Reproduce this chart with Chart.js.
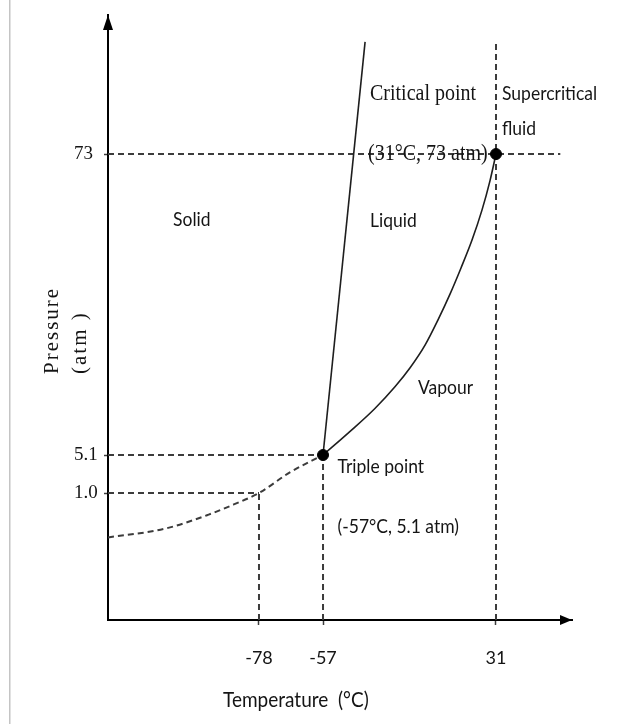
<!DOCTYPE html>
<html>
<head>
<meta charset="utf-8">
<title>Phase diagram of CO2</title>
<script src="https://cdn.jsdelivr.net/npm/chart.js@4/dist/chart.umd.min.js"></script>
<style>
  html, body { margin: 0; padding: 0; background: #fff; }
  canvas { display: block; }
</style>
</head>
<body>
<canvas id="phaseChart" width="632" height="724"></canvas>
<script>
// ─── Data ─────────────────────────────────────────────────────────────────────
const tempTicks       = [-78, -57, 31];
const tempTickLabels  = ['-78', '-57', '31'];
const pressTicks      = [1.0, 5.1, 73];
const pressTickLabels = ['1.0', '5.1', '73'];

const triplePoint   = { t: -57, p: 5.1 };
const criticalPoint = { t: 31,  p: 73 };
const sublimPoint   = { t: -78, p: 1.0 };

// solid / vapour boundary (dashed)
const sublimTemps = [-120, -104, -92, -85, -78, -68, -57];
const sublimPress = [0.65, 0.72, 0.83, 0.91, 1.0, 3.2, 5.1];

// solid / liquid boundary
const meltTemps = [-57, -35.6];
const meltPress = [5.1, 98];

// liquid / vapour boundary
const vapTemps = [-57, -42.8, -30.6, -20.4, -12.7, -5.1, 1.5, 7.6, 13.2, 18.8, 23.9, 27.9, 31];
const vapPress = [5.1, 10.6, 15.6, 20.5, 24.8, 29.9, 35.6, 41.4, 47.3, 53.6, 60.4, 66.9, 73];

// ends of the dashed guide lines
const guideTempEnd  = 64;
const guideTopPress = 98;

// region / point labels
const labelTexts = ['Critical point', '(31°C, 73 atm)', 'Supercritical', 'fluid',
                    'Solid', 'Liquid', 'Vapour', 'Triple point', '(-57°C, 5.1 atm)'];
const labelTemps = [-33.1, -34.1, 34.1, 34.1, -101.9, -33.1, -8.7, -49.6, -49.6];
const labelPress = [86.4, 73, 86.4, 78.8, 58.3, 58.1, 20.4, 3.9, 0.74];
const labelSerif = [true, true, false, false, false, false, false, false, false];

// ─── Schematic axes: the diagram is not to scale ─────────────────────────────
// value anchors and where they sit along the axis (0 = start, 1 = end)
const axisMap = {
  x: { values: [-120, -78, -57, 31, 70],  fracs: [0, 0.3254, 0.4634, 0.8362, 1] },
  y: { values: [0, 1.0, 5.1, 73, 104],    fracs: [0, 0.2099, 0.2727, 0.7702, 1] }
};

class PiecewiseScale extends Chart.LinearScale {
  determineDataLimits() {
    const v = axisMap[this.axis].values;
    this.min = v[0];
    this.max = v[v.length - 1];
  }
  buildTicks() {
    const vals = this.axis === 'x' ? tempTicks : pressTicks;
    return vals.map(value => ({ value }));
  }
  getPixelForValue(value) {
    const { values, fracs } = axisMap[this.axis];
    let i = 0;
    while (i < values.length - 2 && value > values[i + 1]) i++;
    const t = (value - values[i]) / (values[i + 1] - values[i]);
    return this.getPixelForDecimal(fracs[i] + t * (fracs[i + 1] - fracs[i]));
  }
  getValueForPixel(pixel) {
    const { values, fracs } = axisMap[this.axis];
    const d = this.getDecimalForPixel(pixel);
    let i = 0;
    while (i < fracs.length - 2 && d > fracs[i + 1]) i++;
    const t = (d - fracs[i]) / (fracs[i + 1] - fracs[i]);
    return values[i] + t * (values[i + 1] - values[i]);
  }
}
PiecewiseScale.id = 'piecewise';
PiecewiseScale.defaults = {};
Chart.register(PiecewiseScale);

// ─── Helpers ──────────────────────────────────────────────────────────────────
const toXY = (ts, ps) => ts.map((t, i) => ({ x: t, y: ps[i] }));
const xMin = axisMap.x.values[0];
const yMin = axisMap.y.values[0];

const textColor = '#141414';
const dashColor = '#3c3c3c';
const serif = '"Liberation Serif", "Times New Roman", serif';
const sans  = 'Lato, "Open Sans", sans-serif';
const stretch = 1.15;   // the source text is a little taller than wide

function dashed(data, extra) {
  return Object.assign({
    data,
    borderColor: dashColor,
    borderWidth: 2,
    borderDash: [6, 4],
    pointRadius: 0,
    fill: false,
    clip: false
  }, extra || {});
}

function tallText(ctx, txt, px, py, angle, sy) {
  ctx.save();
  ctx.translate(px, py);
  if (angle) ctx.rotate(angle);
  ctx.scale(1, sy || stretch);
  ctx.fillText(txt, 0, 0);
  ctx.restore();
}

// ─── Plugins: labels, axis titles, arrows ────────────────────────────────────
const phaseDecor = {
  id: 'phaseDecor',
  beforeDraw(chart) {
    const ctx = chart.ctx;
    ctx.save();
    ctx.fillStyle = '#c4c4c4';
    ctx.fillRect(9, 0, 1.5, chart.height);
    ctx.restore();
  },
  afterDatasetsDraw(chart) {
    const { ctx, scales: { x, y } } = chart;
    ctx.save();
    ctx.fillStyle = textColor;
    ctx.textBaseline = 'middle';
    ctx.textAlign = 'left';
    labelTexts.forEach((txt, i) => {
      ctx.font = labelSerif[i] ? '20px ' + serif : '17.5px ' + sans;
      tallText(ctx, txt, x.getPixelForValue(labelTemps[i]), y.getPixelForValue(labelPress[i]));
    });
    ctx.restore();
  },
  afterDraw(chart) {
    const { ctx, chartArea: { left, right, top, bottom } } = chart;
    ctx.save();
    ctx.fillStyle = '#000';
    // arrow heads
    ctx.beginPath();
    ctx.moveTo(left, top);
    ctx.lineTo(left - 5, top + 15);
    ctx.lineTo(left + 5, top + 15);
    ctx.closePath();
    ctx.fill();
    ctx.beginPath();
    ctx.moveTo(right, bottom);
    ctx.lineTo(right - 12, bottom - 5);
    ctx.lineTo(right - 12, bottom + 5);
    ctx.closePath();
    ctx.fill();

    // x title
    ctx.fillStyle = textColor;
    ctx.font = '19px ' + sans;
    ctx.textAlign = 'left';
    ctx.textBaseline = 'middle';
    tallText(ctx, 'Temperature  (°C)', left + 115, 700);

    // y title, two rotated lines
    ctx.font = '21px ' + serif;
    if ('letterSpacing' in ctx) ctx.letterSpacing = '2px';
    tallText(ctx, 'Pressure', 52, 374, -Math.PI / 2, 1);
    tallText(ctx, '(atm )', 80, 374, -Math.PI / 2, 1);
    ctx.restore();
  }
};

// ─── Chart ────────────────────────────────────────────────────────────────────
const ctx = document.getElementById('phaseChart').getContext('2d');
const phaseChart = new Chart(ctx, {
  type: 'line',
  data: {
    datasets: [
      {
        // triple and critical points
        data: toXY([triplePoint.t, criticalPoint.t], [triplePoint.p, criticalPoint.p]),
        showLine: false,
        pointRadius: 5.5,
        pointBackgroundColor: '#000',
        pointBorderColor: '#000',
        clip: false
      },
      {
        data: toXY(meltTemps, meltPress),
        borderColor: '#1e1e1e',
        borderWidth: 1.6,
        pointRadius: 0,
        clip: false
      },
      {
        data: toXY(vapTemps, vapPress),
        borderColor: '#1e1e1e',
        borderWidth: 1.6,
        pointRadius: 0,
        cubicInterpolationMode: 'monotone',
        clip: false
      },
      dashed(toXY(sublimTemps, sublimPress), { cubicInterpolationMode: 'monotone' }),
      dashed(toXY([xMin, guideTempEnd], [criticalPoint.p, criticalPoint.p])),
      dashed(toXY([xMin, triplePoint.t], [triplePoint.p, triplePoint.p])),
      dashed(toXY([xMin, sublimPoint.t], [sublimPoint.p, sublimPoint.p])),
      dashed(toXY([sublimPoint.t, sublimPoint.t], [yMin, sublimPoint.p])),
      dashed(toXY([triplePoint.t, triplePoint.t], [yMin, triplePoint.p])),
      dashed(toXY([criticalPoint.t, criticalPoint.t], [yMin, guideTopPress]))
    ]
  },
  options: {
    responsive: false,
    animation: false,
    layout: { padding: { top: 15, left: 74, right: 60, bottom: 0 } },
    scales: {
      x: {
        type: 'piecewise',
        position: 'bottom',
        afterFit: s => { s.height = 104; },
        border: { display: true, color: '#000', width: 2 },
        grid: { display: true, drawOnChartArea: false, tickLength: 5, tickColor: dashColor, tickWidth: 1.5 },
        ticks: {
          autoSkip: false,
          maxRotation: 0,
          padding: 22,
          color: textColor,
          font: { family: sans, size: 18 },
          callback: v => tempTickLabels[tempTicks.indexOf(v)]
        }
      },
      y: {
        type: 'piecewise',
        position: 'left',
        afterFit: s => { s.width = 34; },
        border: { display: true, color: '#000', width: 2 },
        grid: { display: true, drawOnChartArea: false, tickLength: 4, tickColor: dashColor, tickWidth: 1.5 },
        ticks: {
          autoSkip: false,
          crossAlign: 'far',
          color: textColor,
          font: { family: serif, size: 19 },
          callback: v => pressTickLabels[pressTicks.indexOf(v)]
        }
      }
    },
    plugins: {
      legend: { display: false },
      tooltip: { enabled: false }
    }
  },
  plugins: [phaseDecor]
});
</script>
</body>
</html>
